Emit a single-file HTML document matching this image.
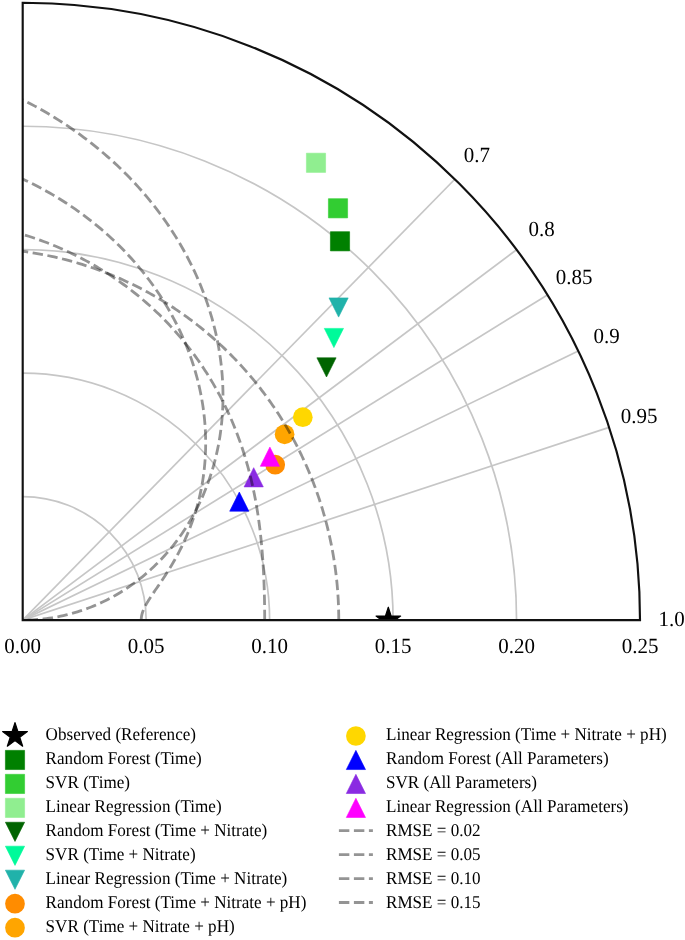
<!DOCTYPE html>
<html><head><meta charset="utf-8"><style>
html,body{margin:0;padding:0;background:#fff;}
svg{display:block;will-change:transform;}
text{font-family:"Liberation Serif",serif;fill:#000;text-rendering:geometricPrecision;}
</style></head><body>
<svg width="685" height="940" viewBox="0 0 685 940">
<defs><clipPath id="ax"><path d="M22.70,620.10 L640.00,620.10 A617.3,617.3 0 0 0 22.70,2.80 Z"/></clipPath></defs>

<g fill="none" stroke="#c6c6c6" stroke-width="1.7" clip-path="url(#ax)"><path d="M146.16,620.10 A123.46,123.46 0 0 0 22.70,496.64"/><path d="M269.62,620.10 A246.92,246.92 0 0 0 22.70,373.18"/><path d="M393.08,620.10 A370.38,370.38 0 0 0 22.70,249.72"/><path d="M516.54,620.10 A493.84,493.84 0 0 0 22.70,126.26"/><line x1="22.7" y1="620.1" x2="454.81" y2="179.26"/><line x1="22.7" y1="620.1" x2="516.54" y2="249.72"/><line x1="22.7" y1="620.1" x2="547.40" y2="294.92"/><line x1="22.7" y1="620.1" x2="578.27" y2="351.03"/><line x1="22.7" y1="620.1" x2="609.13" y2="427.35"/></g>
<g clip-path="url(#ax)"><polygon points="388.30,607.20 385.40,616.11 376.03,616.11 383.61,621.62 380.72,630.54 388.30,625.03 395.88,630.54 392.99,621.62 400.57,616.11 391.20,616.11" fill="#000" stroke="#000" stroke-width="1.2" stroke-linejoin="round"/></g><rect x="330.40" y="231.70" width="19.2" height="19.2" fill="#008000" stroke="#008000" stroke-width="0.6" stroke-linejoin="round"/><rect x="328.40" y="198.70" width="19.2" height="19.2" fill="#32CD32" stroke="#32CD32" stroke-width="0.6" stroke-linejoin="round"/><rect x="306.40" y="153.20" width="19.2" height="19.2" fill="#90EE90" stroke="#90EE90" stroke-width="0.6" stroke-linejoin="round"/><polygon points="326.50,377.00 316.90,357.80 336.10,357.80" fill="#006400" stroke="#006400" stroke-width="0.6" stroke-linejoin="round"/><polygon points="333.90,347.60 324.30,328.40 343.50,328.40" fill="#00FA9A" stroke="#00FA9A" stroke-width="0.6" stroke-linejoin="round"/><polygon points="338.60,317.10 329.00,297.90 348.20,297.90" fill="#20B2AA" stroke="#20B2AA" stroke-width="0.6" stroke-linejoin="round"/><circle cx="275.20" cy="464.70" r="9.85" fill="#FF8C00"/><circle cx="284.60" cy="434.30" r="9.85" fill="#FFA500"/><circle cx="302.80" cy="417.20" r="9.85" fill="#FFD700"/><polygon points="239.30,492.00 229.70,511.20 248.90,511.20" fill="#0000FF" stroke="#0000FF" stroke-width="0.6" stroke-linejoin="round"/><polygon points="253.70,467.70 244.10,486.90 263.30,486.90" fill="#8A2BE2" stroke="#8A2BE2" stroke-width="0.6" stroke-linejoin="round"/><polygon points="269.90,447.10 260.30,466.30 279.50,466.30" fill="#FF00FF" stroke="#FF00FF" stroke-width="0.6" stroke-linejoin="round"/>
<g fill="none" stroke="#000" stroke-opacity="0.42" stroke-width="2.8" stroke-dasharray="10.45 4.55" clip-path="url(#ax)"><path d="M338.76,620.10 L338.75,617.61 L338.73,615.11 L338.68,612.62 L338.63,610.12 L338.56,607.63 L338.47,605.13 L338.36,602.64 L338.24,600.15 L338.10,597.66 L337.95,595.16 L337.78,592.67 L337.60,590.18 L337.39,587.69 L337.18,585.21 L336.94,582.72 L336.69,580.23 L336.42,577.75 L336.14,575.26 L335.84,572.78 L335.53,570.30 L335.20,567.82 L334.85,565.34 L334.48,562.87 L334.10,560.39 L333.71,557.92 L333.30,555.45 L332.87,552.98 L332.42,550.51 L331.96,548.04 L331.48,545.58 L330.99,543.12 L330.48,540.66 L329.95,538.21 L329.41,535.75 L328.85,533.30 L328.27,530.85 L327.68,528.41 L327.07,525.96 L326.45,523.52 L325.81,521.09 L325.15,518.65 L324.47,516.22 L323.78,513.79 L323.07,511.37 L322.35,508.95 L321.61,506.53 L320.85,504.12 L320.08,501.71 L319.29,499.30 L318.48,496.90 L317.66,494.50 L316.82,492.10 L315.97,489.71 L315.09,487.33 L314.20,484.95 L313.30,482.57 L312.38,480.20 L311.44,477.83 L310.48,475.47 L309.51,473.11 L308.52,470.75 L307.51,468.41 L306.49,466.06 L305.45,463.73 L304.39,461.39 L303.32,459.07 L302.23,456.74 L301.13,454.43 L300.00,452.12 L298.86,449.82 L297.71,447.52 L296.53,445.23 L295.34,442.94 L294.14,440.66 L292.91,438.39 L291.67,436.12 L290.42,433.86 L289.14,431.61 L287.85,429.37 L286.55,427.13 L285.22,424.90 L283.88,422.67 L282.52,420.46 L281.15,418.25 L279.76,416.05 L278.35,413.86 L276.93,411.67 L275.49,409.49 L274.03,407.33 L272.55,405.17 L271.06,403.01 L269.55,400.87 L268.03,398.74 L266.49,396.61 L264.93,394.49 L263.36,392.39 L261.77,390.29 L260.16,388.20 L258.53,386.12 L256.89,384.05 L255.24,381.99 L253.56,379.94 L251.87,377.90 L250.16,375.87 L248.44,373.85 L246.70,371.85 L244.95,369.85 L243.17,367.86 L241.39,365.89 L239.58,363.92 L237.76,361.97 L235.92,360.03 L234.07,358.10 L232.20,356.18 L230.31,354.27 L228.41,352.37 L226.50,350.49 L224.56,348.62 L222.61,346.76 L220.65,344.92 L218.67,343.08 L216.67,341.26 L214.66,339.46 L212.63,337.66 L210.59,335.88 L208.53,334.11 L206.45,332.36 L204.36,330.62 L202.26,328.89 L200.14,327.18 L198.00,325.48 L195.85,323.80 L193.69,322.13 L191.51,320.48 L189.31,318.84 L187.10,317.21 L184.88,315.60 L182.64,314.01 L180.38,312.43 L178.12,310.87 L175.83,309.32 L173.53,307.79 L171.22,306.27 L168.90,304.77 L166.56,303.29 L164.20,301.82 L161.84,300.37 L159.46,298.94 L157.06,297.52 L154.65,296.13 L152.23,294.74 L149.80,293.38 L147.35,292.03 L144.89,290.70 L142.41,289.39 L139.93,288.09 L137.43,286.82 L134.91,285.56 L132.39,284.32 L129.85,283.10 L127.30,281.90 L124.74,280.71 L122.16,279.55 L119.58,278.40 L116.98,277.28 L114.37,276.17 L111.75,275.08 L109.12,274.02 L106.47,272.97 L103.82,271.94 L101.15,270.93 L98.48,269.94 L95.79,268.98 L93.09,268.03 L90.38,267.10 L87.67,266.19 L84.94,265.31 L82.20,264.45 L79.45,263.60 L76.69,262.78 L73.93,261.98 L71.15,261.20 L68.37,260.44 L65.57,259.70 L62.77,258.99 L59.96,258.30 L57.14,257.63 L54.31,256.98 L51.47,256.35 L48.63,255.75 L45.78,255.17 L42.92,254.61 L40.05,254.07 L37.17,253.56 L34.29,253.07 L31.40,252.60 L28.51,252.16 L25.61,251.73 L22.70,251.34"/><path d="M264.68,620.10 L264.68,618.19 L264.67,616.28 L264.67,614.37 L264.65,612.46 L264.64,610.55 L264.62,608.63 L264.60,606.72 L264.57,604.81 L264.54,602.89 L264.51,600.97 L264.47,599.05 L264.43,597.13 L264.38,595.21 L264.33,593.29 L264.28,591.36 L264.22,589.43 L264.16,587.50 L264.10,585.57 L264.03,583.63 L263.95,581.69 L263.87,579.75 L263.79,577.81 L263.70,575.86 L263.61,573.91 L263.51,571.95 L263.40,570.00 L263.29,568.03 L263.18,566.07 L263.06,564.10 L262.93,562.12 L262.80,560.15 L262.66,558.16 L262.52,556.18 L262.37,554.19 L262.21,552.19 L262.05,550.19 L261.88,548.19 L261.70,546.18 L261.51,544.17 L261.32,542.15 L261.12,540.13 L260.91,538.10 L260.70,536.07 L260.47,534.03 L260.24,531.99 L260.00,529.94 L259.75,527.89 L259.49,525.83 L259.22,523.77 L258.94,521.70 L258.65,519.63 L258.36,517.55 L258.05,515.46 L257.73,513.38 L257.40,511.28 L257.06,509.18 L256.71,507.08 L256.35,504.97 L255.98,502.86 L255.60,500.74 L255.20,498.61 L254.79,496.49 L254.37,494.35 L253.94,492.21 L253.49,490.07 L253.04,487.92 L252.57,485.77 L252.08,483.61 L251.58,481.45 L251.07,479.28 L250.55,477.11 L250.01,474.94 L249.45,472.76 L248.88,470.58 L248.30,468.39 L247.70,466.20 L247.09,464.01 L246.46,461.81 L245.81,459.61 L245.15,457.40 L244.48,455.19 L243.78,452.98 L243.08,450.77 L242.35,448.55 L241.61,446.33 L240.85,444.11 L240.07,441.89 L239.28,439.66 L238.46,437.43 L237.63,435.20 L236.79,432.97 L235.92,430.74 L235.04,428.51 L234.14,426.27 L233.21,424.03 L232.28,421.80 L231.32,419.56 L230.34,417.32 L229.34,415.08 L228.33,412.84 L227.29,410.61 L226.23,408.37 L225.16,406.13 L224.06,403.90 L222.95,401.66 L221.81,399.43 L220.66,397.20 L219.48,394.97 L218.28,392.74 L217.06,390.52 L215.83,388.30 L214.57,386.08 L213.29,383.86 L211.98,381.65 L210.66,379.44 L209.32,377.23 L207.95,375.03 L206.56,372.83 L205.15,370.64 L203.72,368.45 L202.27,366.26 L200.79,364.09 L199.30,361.91 L197.78,359.75 L196.24,357.59 L194.68,355.43 L193.09,353.29 L191.48,351.14 L189.86,349.01 L188.20,346.89 L186.53,344.77 L184.83,342.66 L183.12,340.56 L181.38,338.46 L179.61,336.38 L177.83,334.30 L176.02,332.24 L174.19,330.18 L172.34,328.14 L170.46,326.10 L168.56,324.07 L166.64,322.06 L164.70,320.06 L162.74,318.07 L160.75,316.09 L158.74,314.12 L156.71,312.16 L154.65,310.22 L152.58,308.29 L150.48,306.37 L148.36,304.47 L146.22,302.58 L144.05,300.70 L141.87,298.84 L139.66,296.99 L137.43,295.16 L135.18,293.35 L132.91,291.54 L130.61,289.76 L128.30,287.99 L125.96,286.24 L123.60,284.50 L121.22,282.78 L118.82,281.08 L116.40,279.39 L113.96,277.72 L111.49,276.07 L109.01,274.44 L106.51,272.83 L103.98,271.23 L101.44,269.66 L98.88,268.10 L96.29,266.57 L93.69,265.05 L91.06,263.56 L88.42,262.08 L85.76,260.63 L83.08,259.19 L80.38,257.78 L77.66,256.39 L74.92,255.02 L72.17,253.67 L69.39,252.35 L66.60,251.04 L63.79,249.76 L60.97,248.51 L58.12,247.27 L55.26,246.06 L52.38,244.88 L49.48,243.71 L46.57,242.57 L43.64,241.46 L40.70,240.37 L37.74,239.31 L34.76,238.27 L31.77,237.25 L28.76,236.27 L25.74,235.30 L22.70,234.37"/><path d="M141.22,620.10 L141.24,619.16 L141.30,618.23 L141.40,617.29 L141.54,616.35 L141.72,615.40 L141.94,614.45 L142.20,613.49 L142.49,612.53 L142.82,611.55 L143.19,610.57 L143.60,609.58 L144.04,608.57 L144.52,607.56 L145.03,606.53 L145.57,605.48 L146.15,604.43 L146.75,603.35 L147.39,602.26 L148.06,601.16 L148.75,600.03 L149.47,598.89 L150.22,597.73 L150.99,596.55 L151.79,595.35 L152.60,594.13 L153.44,592.88 L154.30,591.62 L155.18,590.33 L156.08,589.02 L156.99,587.69 L157.92,586.34 L158.86,584.96 L159.81,583.55 L160.78,582.13 L161.76,580.67 L162.74,579.20 L163.74,577.70 L164.74,576.17 L165.75,574.62 L166.76,573.04 L167.78,571.44 L168.80,569.81 L169.82,568.15 L170.85,566.47 L171.87,564.77 L172.89,563.04 L173.91,561.28 L174.93,559.49 L175.94,557.69 L176.95,555.85 L177.95,553.99 L178.95,552.10 L179.94,550.19 L180.92,548.25 L181.89,546.29 L182.85,544.31 L183.80,542.29 L184.74,540.26 L185.67,538.19 L186.58,536.11 L187.48,534.00 L188.37,531.86 L189.24,529.71 L190.09,527.52 L190.93,525.32 L191.75,523.09 L192.55,520.84 L193.34,518.57 L194.10,516.27 L194.85,513.95 L195.57,511.61 L196.28,509.25 L196.96,506.87 L197.62,504.46 L198.26,502.04 L198.88,499.60 L199.47,497.13 L200.04,494.65 L200.58,492.15 L201.10,489.62 L201.59,487.08 L202.06,484.52 L202.50,481.95 L202.91,479.35 L203.30,476.74 L203.66,474.12 L203.99,471.47 L204.29,468.81 L204.56,466.13 L204.81,463.44 L205.02,460.74 L205.21,458.02 L205.36,455.28 L205.48,452.54 L205.58,449.77 L205.64,447.00 L205.67,444.22 L205.67,441.42 L205.63,438.61 L205.56,435.79 L205.46,432.96 L205.33,430.11 L205.17,427.26 L204.97,424.40 L204.73,421.53 L204.47,418.66 L204.16,415.77 L203.83,412.88 L203.46,409.98 L203.05,407.07 L202.61,404.16 L202.13,401.24 L201.62,398.31 L201.08,395.39 L200.49,392.45 L199.87,389.52 L199.22,386.58 L198.53,383.63 L197.80,380.69 L197.04,377.74 L196.24,374.79 L195.40,371.84 L194.53,368.89 L193.62,365.94 L192.67,362.99 L191.68,360.04 L190.66,357.09 L189.60,354.15 L188.50,351.20 L187.37,348.26 L186.20,345.32 L184.99,342.39 L183.74,339.46 L182.46,336.54 L181.14,333.62 L179.78,330.70 L178.38,327.79 L176.95,324.89 L175.48,322.00 L173.97,319.11 L172.42,316.24 L170.84,313.37 L169.22,310.51 L167.56,307.66 L165.87,304.82 L164.13,301.99 L162.36,299.17 L160.56,296.36 L158.71,293.56 L156.83,290.78 L154.91,288.01 L152.96,285.25 L150.97,282.51 L148.94,279.78 L146.87,277.07 L144.77,274.37 L142.63,271.69 L140.46,269.02 L138.25,266.37 L136.01,263.74 L133.73,261.12 L131.41,258.52 L129.06,255.94 L126.67,253.38 L124.25,250.84 L121.79,248.32 L119.30,245.82 L116.78,243.34 L114.22,240.88 L111.62,238.45 L108.99,236.03 L106.33,233.64 L103.64,231.27 L100.91,228.93 L98.15,226.60 L95.36,224.31 L92.53,222.03 L89.67,219.78 L86.78,217.56 L83.86,215.36 L80.91,213.19 L77.92,211.05 L74.91,208.93 L71.86,206.84 L68.78,204.78 L65.68,202.75 L62.54,200.74 L59.38,198.77 L56.18,196.82 L52.96,194.90 L49.71,193.02 L46.42,191.16 L43.12,189.34 L39.78,187.54 L36.42,185.78 L33.03,184.05 L29.61,182.36 L26.17,180.69 L22.70,179.06"/><path d="M27.64,620.10 L28.43,620.05 L30.32,619.98 L32.71,619.86 L35.32,619.70 L38.02,619.49 L40.79,619.24 L43.58,618.94 L46.40,618.60 L49.23,618.21 L52.06,617.78 L54.89,617.30 L57.73,616.77 L60.56,616.20 L63.38,615.59 L66.21,614.92 L69.02,614.22 L71.83,613.47 L74.63,612.67 L77.42,611.83 L80.21,610.95 L82.98,610.02 L85.74,609.04 L88.48,608.02 L91.22,606.96 L93.94,605.86 L96.65,604.71 L99.34,603.51 L102.02,602.28 L104.68,601.00 L107.33,599.68 L109.96,598.31 L112.57,596.90 L115.16,595.46 L117.74,593.96 L120.29,592.43 L122.83,590.86 L125.34,589.24 L127.84,587.58 L130.31,585.89 L132.76,584.15 L135.19,582.37 L137.59,580.55 L139.98,578.69 L142.33,576.79 L144.67,574.86 L146.98,572.88 L149.26,570.87 L151.52,568.82 L153.75,566.73 L155.95,564.60 L158.12,562.43 L160.27,560.23 L162.39,557.99 L164.48,555.72 L166.54,553.41 L168.57,551.07 L170.57,548.68 L172.54,546.27 L174.47,543.82 L176.38,541.34 L178.25,538.82 L180.09,536.27 L181.90,533.69 L183.68,531.07 L185.42,528.43 L187.12,525.75 L188.79,523.04 L190.43,520.30 L192.03,517.53 L193.59,514.73 L195.12,511.90 L196.61,509.04 L198.06,506.15 L199.48,503.24 L200.86,500.30 L202.20,497.33 L203.50,494.33 L204.76,491.31 L205.98,488.26 L207.16,485.19 L208.31,482.09 L209.41,478.97 L210.47,475.82 L211.49,472.65 L212.47,469.46 L213.41,466.25 L214.30,463.01 L215.15,459.76 L215.96,456.48 L216.73,453.18 L217.46,449.87 L218.14,446.53 L218.78,443.18 L219.37,439.81 L219.92,436.42 L220.42,433.01 L220.88,429.59 L221.30,426.15 L221.67,422.69 L221.99,419.23 L222.27,415.74 L222.51,412.25 L222.70,408.74 L222.84,405.21 L222.93,401.68 L222.98,398.14 L222.98,394.58 L222.94,391.01 L222.85,387.44 L222.71,383.85 L222.52,380.26 L222.29,376.66 L222.01,373.05 L221.68,369.43 L221.30,365.81 L220.87,362.19 L220.40,358.55 L219.88,354.92 L219.31,351.28 L218.69,347.63 L218.03,343.99 L217.31,340.34 L216.55,336.69 L215.74,333.04 L214.88,329.39 L213.97,325.74 L213.01,322.09 L212.01,318.44 L210.95,314.80 L209.85,311.15 L208.70,307.51 L207.50,303.88 L206.25,300.25 L204.95,296.62 L203.60,293.00 L202.20,289.39 L200.76,285.78 L199.27,282.18 L197.73,278.59 L196.14,275.01 L194.50,271.44 L192.81,267.88 L191.08,264.32 L189.29,260.78 L187.46,257.25 L185.58,253.74 L183.66,250.23 L181.68,246.74 L179.66,243.27 L177.59,239.80 L175.48,236.36 L173.31,232.93 L171.10,229.51 L168.84,226.11 L166.54,222.74 L164.19,219.37 L161.79,216.03 L159.35,212.71 L156.86,209.40 L154.33,206.12 L151.75,202.86 L149.12,199.62 L146.45,196.40 L143.73,193.20 L140.97,190.03 L138.17,186.88 L135.32,183.76 L132.43,180.66 L129.49,177.59 L126.51,174.54 L123.49,171.52 L120.43,168.52 L117.32,165.56 L114.17,162.62 L110.98,159.71 L107.74,156.83 L104.47,153.98 L101.15,151.16 L97.80,148.37 L94.40,145.61 L90.96,142.88 L87.49,140.19 L83.97,137.53 L80.42,134.90 L76.83,132.30 L73.20,129.74 L69.53,127.22 L65.82,124.73 L62.08,122.27 L58.30,119.85 L54.48,117.47 L50.63,115.13 L46.74,112.82 L42.82,110.55 L38.86,108.32 L34.87,106.12 L30.85,103.97 L26.79,101.86 L22.70,99.78"/></g>
<path d="M22.70,2.80 L22.70,620.10 L640.00,620.10 A617.3,617.3 0 0 0 22.70,2.80 Z" fill="none" stroke="#111" stroke-width="2.15" stroke-linejoin="miter"/>
<text transform="translate(22.70,652.7) scale(1,1.03)" text-anchor="middle" font-size="21">0.00</text><text transform="translate(146.16,652.7) scale(1,1.03)" text-anchor="middle" font-size="21">0.05</text><text transform="translate(269.62,652.7) scale(1,1.03)" text-anchor="middle" font-size="21">0.10</text><text transform="translate(393.08,652.7) scale(1,1.03)" text-anchor="middle" font-size="21">0.15</text><text transform="translate(516.54,652.7) scale(1,1.03)" text-anchor="middle" font-size="21">0.20</text><text transform="translate(640.00,652.7) scale(1,1.03)" text-anchor="middle" font-size="21">0.25</text><text transform="translate(476.86,162.31) scale(1,1.03)" text-anchor="middle" font-size="21">0.7</text><text transform="translate(541.74,236.37) scale(1,1.03)" text-anchor="middle" font-size="21">0.8</text><text transform="translate(574.18,283.87) scale(1,1.03)" text-anchor="middle" font-size="21">0.85</text><text transform="translate(606.62,342.84) scale(1,1.03)" text-anchor="middle" font-size="21">0.9</text><text transform="translate(639.06,423.06) scale(1,1.03)" text-anchor="middle" font-size="21">0.95</text><text transform="translate(671.50,625.65) scale(1,1.03)" text-anchor="middle" font-size="21">1.0</text>
<polygon points="15.00,722.60 12.07,731.62 2.59,731.62 10.26,737.19 7.33,746.21 15.00,740.63 22.67,746.21 19.74,737.19 27.41,731.62 17.93,731.62" fill="#000" stroke="#000" stroke-width="1.2" stroke-linejoin="round"/><text transform="translate(45.6,740.30) scale(1,1.05)" font-size="17.1">Observed (Reference)</text><rect x="5.40" y="750.36" width="19.2" height="19.2" fill="#008000" stroke="#008000" stroke-width="0.6" stroke-linejoin="round"/><text transform="translate(45.6,764.26) scale(1,1.05)" font-size="17.1">Random Forest (Time)</text><rect x="5.40" y="774.32" width="19.2" height="19.2" fill="#32CD32" stroke="#32CD32" stroke-width="0.6" stroke-linejoin="round"/><text transform="translate(45.6,788.22) scale(1,1.05)" font-size="17.1">SVR (Time)</text><rect x="5.40" y="798.28" width="19.2" height="19.2" fill="#90EE90" stroke="#90EE90" stroke-width="0.6" stroke-linejoin="round"/><text transform="translate(45.6,812.18) scale(1,1.05)" font-size="17.1">Linear Regression (Time)</text><polygon points="15.00,841.44 5.40,822.24 24.60,822.24" fill="#006400" stroke="#006400" stroke-width="0.6" stroke-linejoin="round"/><text transform="translate(45.6,836.14) scale(1,1.05)" font-size="17.1">Random Forest (Time + Nitrate)</text><polygon points="15.00,865.40 5.40,846.20 24.60,846.20" fill="#00FA9A" stroke="#00FA9A" stroke-width="0.6" stroke-linejoin="round"/><text transform="translate(45.6,860.10) scale(1,1.05)" font-size="17.1">SVR (Time + Nitrate)</text><polygon points="15.00,889.36 5.40,870.16 24.60,870.16" fill="#20B2AA" stroke="#20B2AA" stroke-width="0.6" stroke-linejoin="round"/><text transform="translate(45.6,884.06) scale(1,1.05)" font-size="17.1">Linear Regression (Time + Nitrate)</text><circle cx="15.00" cy="903.72" r="9.85" fill="#FF8C00"/><text transform="translate(45.6,908.02) scale(1,1.05)" font-size="17.1">Random Forest (Time + Nitrate + pH)</text><circle cx="15.00" cy="927.68" r="9.85" fill="#FFA500"/><text transform="translate(45.6,931.98) scale(1,1.05)" font-size="17.1">SVR (Time + Nitrate + pH)</text><circle cx="355.90" cy="736.00" r="9.85" fill="#FFD700"/><text transform="translate(386.0,740.30) scale(1,1.05)" font-size="17.1">Linear Regression (Time + Nitrate + pH)</text><polygon points="355.90,750.36 346.30,769.56 365.50,769.56" fill="#0000FF" stroke="#0000FF" stroke-width="0.6" stroke-linejoin="round"/><text transform="translate(386.0,764.26) scale(1,1.05)" font-size="17.1">Random Forest (All Parameters)</text><polygon points="355.90,774.32 346.30,793.52 365.50,793.52" fill="#8A2BE2" stroke="#8A2BE2" stroke-width="0.6" stroke-linejoin="round"/><text transform="translate(386.0,788.22) scale(1,1.05)" font-size="17.1">SVR (All Parameters)</text><polygon points="355.90,798.28 346.30,817.48 365.50,817.48" fill="#FF00FF" stroke="#FF00FF" stroke-width="0.6" stroke-linejoin="round"/><text transform="translate(386.0,812.18) scale(1,1.05)" font-size="17.1">Linear Regression (All Parameters)</text><line x1="338.90" y1="830.64" x2="372.90" y2="830.64" stroke="#000" stroke-opacity="0.42" stroke-width="2.8" stroke-dasharray="10.45 4.55"/><text transform="translate(386.0,836.14) scale(1,1.05)" font-size="17.1">RMSE = 0.02</text><line x1="338.90" y1="854.60" x2="372.90" y2="854.60" stroke="#000" stroke-opacity="0.42" stroke-width="2.8" stroke-dasharray="10.45 4.55"/><text transform="translate(386.0,860.10) scale(1,1.05)" font-size="17.1">RMSE = 0.05</text><line x1="338.90" y1="878.56" x2="372.90" y2="878.56" stroke="#000" stroke-opacity="0.42" stroke-width="2.8" stroke-dasharray="10.45 4.55"/><text transform="translate(386.0,884.06) scale(1,1.05)" font-size="17.1">RMSE = 0.10</text><line x1="338.90" y1="902.52" x2="372.90" y2="902.52" stroke="#000" stroke-opacity="0.42" stroke-width="2.8" stroke-dasharray="10.45 4.55"/><text transform="translate(386.0,908.02) scale(1,1.05)" font-size="17.1">RMSE = 0.15</text>
</svg></body></html>
